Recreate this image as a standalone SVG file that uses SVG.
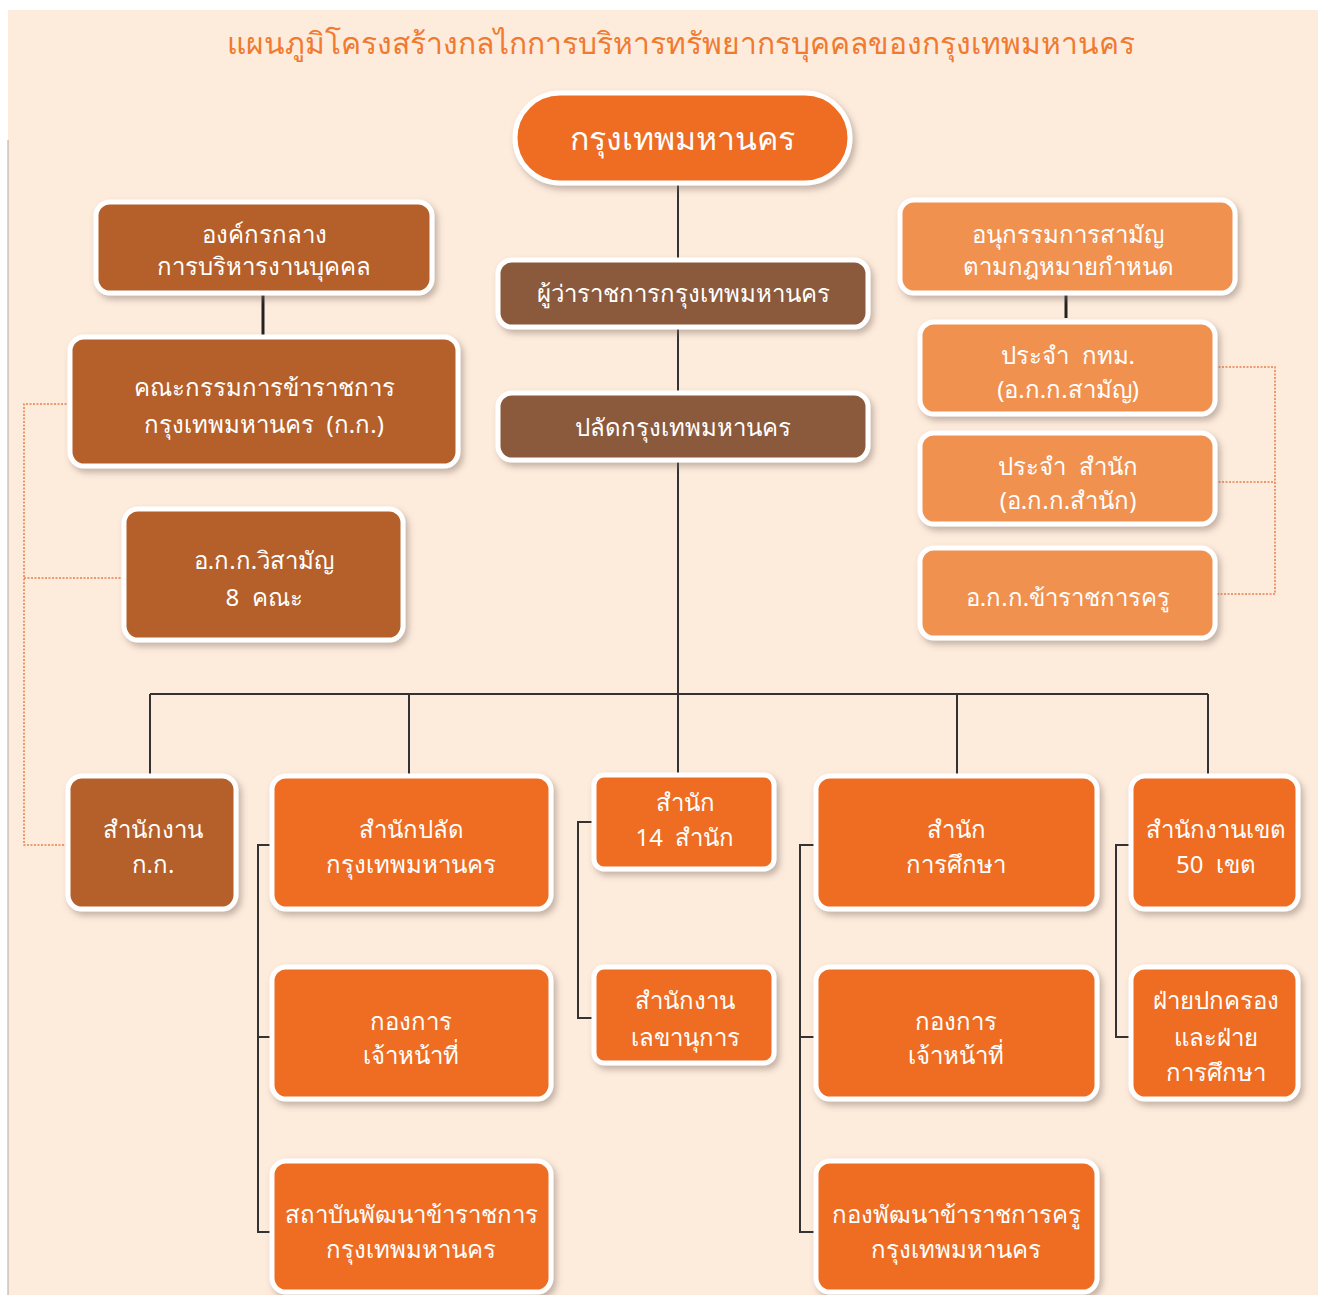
<svg xmlns="http://www.w3.org/2000/svg" width="1327" height="1295" viewBox="0 0 1327 1295">
<defs>
<filter id="sh" x="-10%" y="-10%" width="125%" height="130%">
<feDropShadow dx="3" dy="4" stdDeviation="3" flood-color="#7a6a60" flood-opacity="0.45"/>
</filter>
<style>
.box{stroke:#ffffff;stroke-width:5;filter:url(#sh)}
.br{fill:#B5602A}
.dk{fill:#8B5A3C}
.lo{fill:#F19150}
.or{fill:#EE6D22}
text{font-family:"Noto Sans","DejaVu Sans",sans-serif;fill:#ffffff;font-size:24px;text-anchor:middle;dominant-baseline:central;white-space:pre}
.title{fill:#F07A30;font-size:30px}
.big{font-size:32px}
.ln{stroke:#333;stroke-width:2;fill:none}
.th{stroke:#222;stroke-width:3;fill:none}
.dot{stroke:#E8814A;stroke-width:1.5;stroke-dasharray:2 1.5;fill:none}
</style>
</defs>
<rect x="0" y="0" width="1327" height="1295" fill="#ffffff"/>
<rect x="8" y="10" width="1310" height="1285" fill="#FDEBDC"/>
<line x1="8" y1="140" x2="8" y2="1295" stroke="#aaa" stroke-width="1"/>
<text id="title" class="title" x="681" y="42">แผนภูมิโครงสร้างกลไกการบริหารทรัพยากรบุคคลของกรุงเทพมหานคร</text>

<g id="connectors">
<line class="ln" x1="678" y1="183" x2="678" y2="775"/>
<line class="ln" x1="150" y1="694" x2="1208" y2="694"/>
<line class="ln" x1="150" y1="694" x2="150" y2="776"/>
<line class="ln" x1="409" y1="694" x2="409" y2="776"/>
<line class="ln" x1="957" y1="694" x2="957" y2="776"/>
<line class="ln" x1="1208" y1="694" x2="1208" y2="776"/>
<line class="th" x1="263" y1="293" x2="263" y2="340"/>
<line class="th" x1="1066" y1="293" x2="1066" y2="318"/>
<polyline class="dot" points="70,404 24,404 24,845 68,845"/>
<line class="dot" x1="24" y1="578" x2="124" y2="578"/>
<polyline class="dot" points="1215,367 1275,367 1275,594 1215,594"/>
<line class="dot" x1="1215" y1="482" x2="1275" y2="482"/>
<polyline class="ln" points="270,845 258,845 258,1232 270,1232"/>
<line class="ln" x1="258" y1="1037" x2="270" y2="1037"/>
<polyline class="ln" points="594,822 578,822 578,1018 594,1018"/>
<polyline class="ln" points="814,845 800,845 800,1232 814,1232"/>
<line class="ln" x1="800" y1="1037" x2="814" y2="1037"/>
<polyline class="ln" points="1129,845 1116,845 1116,1037 1129,1037"/>
</g>

<g id="n-bkk"><rect class="box or" x="515" y="93" width="335" height="90" rx="45"/><text class="big" x="682" y="137">กรุงเทพมหานคร</text></g>

<g id="n-central"><rect class="box br" x="96" y="202" width="336" height="91" rx="14"/><text x="264" y="233">องค์กรกลาง</text><text x="264" y="265">การบริหารงานบุคคล</text></g>
<g id="n-kk"><rect class="box br" x="70" y="337" width="388" height="129" rx="14"/><text x="264" y="386">คณะกรรมการข้าราชการ</text><text x="264" y="423">กรุงเทพมหานคร  (ก.ก.)</text></g>
<g id="n-wisaman"><rect class="box br" x="124" y="509" width="279" height="131" rx="14"/><text x="264" y="559">อ.ก.ก.วิสามัญ</text><text x="264" y="596">8  คณะ</text></g>

<g id="n-governor"><rect class="box dk" x="498" y="260" width="370" height="67" rx="14"/><text x="683" y="292">ผู้ว่าราชการกรุงเทพมหานคร</text></g>
<g id="n-palad"><rect class="box dk" x="498" y="393" width="370" height="67" rx="14"/><text x="683" y="426">ปลัดกรุงเทพมหานคร</text></g>

<g id="n-anu"><rect class="box lo" x="900" y="200" width="335" height="93" rx="14"/><text x="1068" y="233">อนุกรรมการสามัญ</text><text x="1068" y="265">ตามกฎหมายกำหนด</text></g>
<g id="n-okk-saman"><rect class="box lo" x="920" y="322" width="295" height="92" rx="14"/><text x="1068" y="354">ประจำ  กทม.</text><text x="1068" y="388">(อ.ก.ก.สามัญ)</text></g>
<g id="n-okk-samnak"><rect class="box lo" x="920" y="433" width="295" height="91" rx="14"/><text x="1068" y="465">ประจำ  สำนัก</text><text x="1068" y="499">(อ.ก.ก.สำนัก)</text></g>
<g id="n-okk-kru"><rect class="box lo" x="920" y="548" width="295" height="90" rx="14"/><text x="1068" y="596">อ.ก.ก.ข้าราชการครู</text></g>

<g id="n-office-kk"><rect class="box br" x="68" y="776" width="168" height="133" rx="14"/><text x="153" y="828">สำนักงาน</text><text x="153" y="863">ก.ก.</text></g>
<g id="n-samnak-palad"><rect class="box or" x="272" y="776" width="279" height="133" rx="14"/><text x="411" y="828">สำนักปลัด</text><text x="411" y="863">กรุงเทพมหานคร</text></g>
<g id="n-kong1"><rect class="box or" x="272" y="967" width="279" height="132" rx="14"/><text x="411" y="1020">กองการ</text><text x="411" y="1054">เจ้าหน้าที่</text></g>
<g id="n-institute"><rect class="box or" x="272" y="1161" width="279" height="131" rx="14"/><text x="411" y="1213">สถาบันพัฒนาข้าราชการ</text><text x="411" y="1248">กรุงเทพมหานคร</text></g>

<g id="n-14"><rect class="box or" x="594" y="775" width="180" height="94" rx="10"/><text x="685" y="801">สำนัก</text><text x="685" y="836">14  สำนัก</text></g>
<g id="n-secretary"><rect class="box or" x="594" y="967" width="180" height="96" rx="10"/><text x="685" y="999">สำนักงาน</text><text x="685" y="1036">เลขานุการ</text></g>

<g id="n-edu"><rect class="box or" x="816" y="776" width="281" height="133" rx="14"/><text x="956" y="828">สำนัก</text><text x="956" y="863">การศึกษา</text></g>
<g id="n-kong2"><rect class="box or" x="816" y="967" width="281" height="132" rx="14"/><text x="956" y="1020">กองการ</text><text x="956" y="1054">เจ้าหน้าที่</text></g>
<g id="n-teacher"><rect class="box or" x="816" y="1161" width="281" height="131" rx="14"/><text x="956" y="1213">กองพัฒนาข้าราชการครู</text><text x="956" y="1248">กรุงเทพมหานคร</text></g>

<g id="n-district"><rect class="box or" x="1131" y="776" width="167" height="133" rx="14"/><text x="1216" y="828">สำนักงานเขต</text><text x="1216" y="863">50  เขต</text></g>
<g id="n-fai"><rect class="box or" x="1131" y="967" width="167" height="132" rx="14"/><text x="1216" y="999">ฝ่ายปกครอง</text><text x="1216" y="1036">และฝ่าย</text><text x="1216" y="1071">การศึกษา</text></g>
</svg>
